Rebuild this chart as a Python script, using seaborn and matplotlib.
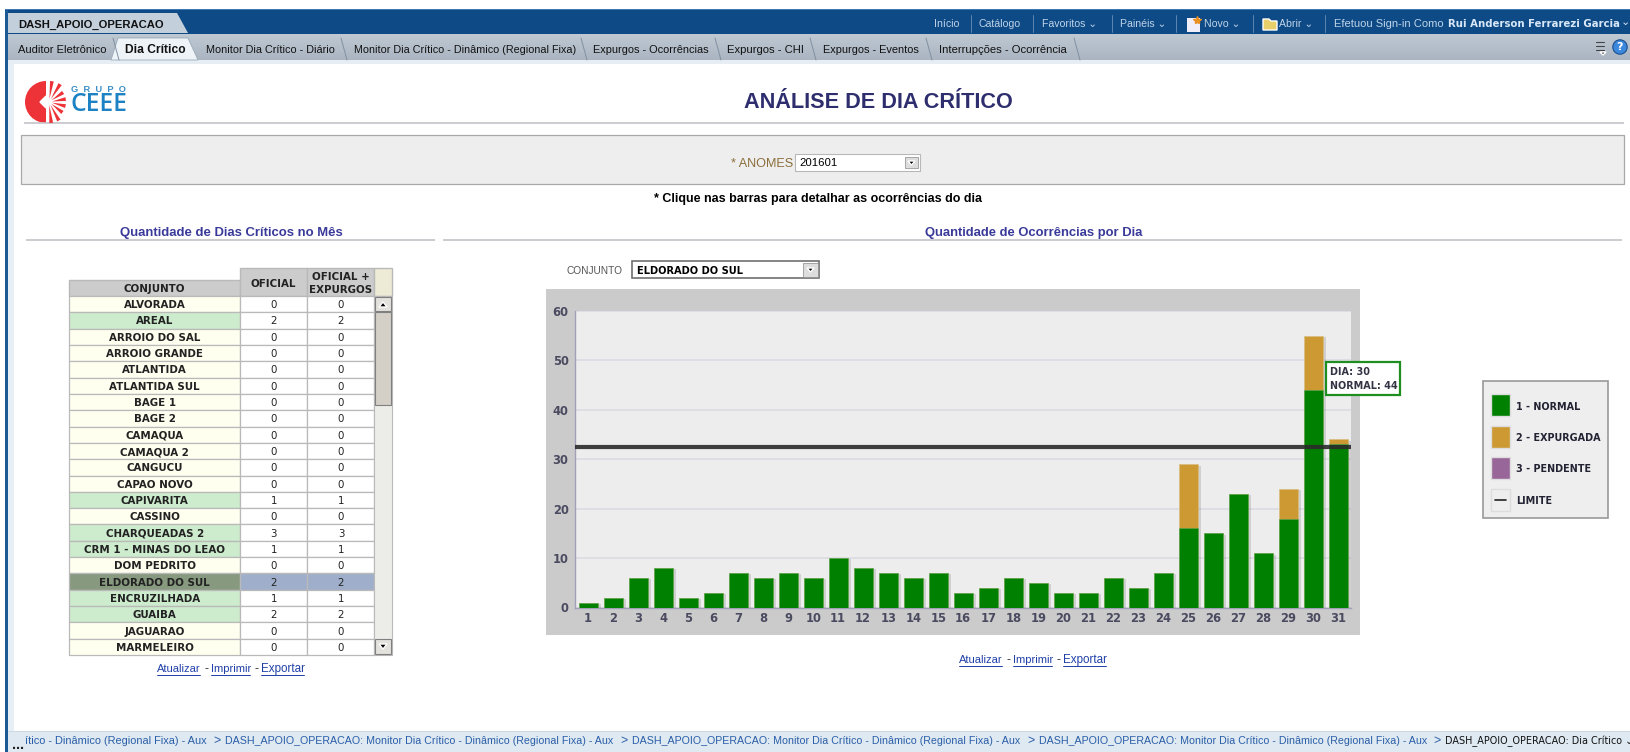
import numpy as np
import pandas as pd
import seaborn as sns
import matplotlib
matplotlib.use("Agg")
import matplotlib.pyplot as plt
from matplotlib.patches import Rectangle, Wedge, Polygon
from matplotlib.textpath import TextPath
from matplotlib.font_manager import FontProperties
import matplotlib.patheffects as pe

# ---------- data ----------
days = list(range(1, 32))
normal = [1, 2, 6, 8, 2, 3, 7, 6, 7, 6, 10, 8, 7, 6, 7, 3, 4, 6, 5, 3, 3, 6, 4, 7, 16, 15, 23, 11, 18, 44, 33]
expurgada = [0, 0, 0, 0, 0, 0, 0, 0, 0, 0, 0, 0, 0, 0, 0, 0, 0, 0, 0, 0, 0, 0, 0, 0, 13, 0, 0, 0, 6, 11, 1]
limite = 32.5
y_ticks = [0, 10, 20, 30, 40, 50, 60]

conjuntos = ["ALVORADA", "AREAL", "ARROIO DO SAL", "ARROIO GRANDE", "ATLANTIDA", "ATLANTIDA SUL",
             "BAGE 1", "BAGE 2", "CAMAQUA", "CAMAQUA 2", "CANGUCU", "CAPAO NOVO", "CAPIVARITA",
             "CASSINO", "CHARQUEADAS 2", "CRM 1 - MINAS DO LEAO", "DOM PEDRITO", "ELDORADO DO SUL",
             "ENCRUZILHADA", "GUAIBA", "JAGUARAO", "MARMELEIRO"]
oficial = [0, 2, 0, 0, 0, 0, 0, 0, 0, 0, 0, 0, 1, 0, 3, 1, 0, 2, 1, 2, 0, 0]
oficial_expurgos = [0, 2, 0, 0, 0, 0, 0, 0, 0, 0, 0, 0, 1, 0, 3, 1, 0, 2, 1, 2, 0, 0]
selecionado = "ELDORADO DO SUL"

tabs = [("Auditor Eletrônico", 18, 105), ("Dia Crítico", 125, 184), ("Monitor Dia Crítico - Diário", 206, 333),
        ("Monitor Dia Crítico - Dinâmico (Regional Fixa)", 354, 573), ("Expurgos - Ocorrências", 593, 707),
        ("Expurgos - CHI", 727, 802), ("Expurgos - Eventos", 823, 918), ("Interrupções - Ocorrência", 939, 1066)]
menu = [("Início", 934), ("Catálogo", 979), ("Favoritos ⌄", 1042), ("Painéis ⌄", 1120),
        ("Novo ⌄", 1204), ("Abrir ⌄", 1279)]

COL_N, COL_E, COL_P = "#008000", "#CC9933", "#996699"
W, H = 1631, 752

sns.set_theme(style="white")
plt.rcParams["font.family"] = ["DejaVu Sans"]
fig = plt.figure(figsize=(W / 100, H / 100), dpi=100, facecolor="white")

def px_axes(z):
    a = fig.add_axes([0, 0, 1, 1], zorder=z)
    a.set_xlim(0, W); a.set_ylim(H, 0); a.axis("off"); a.patch.set_alpha(0)
    return a

bg = px_axes(0)
fg = px_axes(3)

def fit(a, s, x0, x1, y, family="Liberation Sans", weight="normal", color="black", **kw):
    """Text of s spanning pixels x0..x1, vertically centred on y."""
    fp = FontProperties(family=family, weight=weight)
    w = TextPath((0, 0), s, size=10, prop=fp).get_extents().width
    size_px = 10 * (x1 - x0) / w
    return a.text(x0, y, s, family=family, weight=weight, fontsize=size_px * 72 / 100, color=color,
                  ha="left", va="center", **kw)

def rect(a, x0, y0, x1, y1, fc, ec="none", lw=0, z=1):
    a.add_patch(Rectangle((x0, y0), x1 - x0, y1 - y0, fc=fc, ec=ec, lw=lw, zorder=z))

def hline(a, x0, x1, y, c="#C4C4C8", lw=1.2):
    a.plot([x0, x1], [y, y], color=c, lw=lw, solid_capstyle="butt")

# ---------- page chrome ----------
rect(bg, 8, 60, 14, 731, "#E6EEF6", z=0.6)
rect(bg, 5, 9, W, 34, "#0E4A85")
rect(bg, 5, 9, W, 10, "#3C78B8", z=1.1)
rect(bg, 5, 9, 8, H, "#1C5A96")
bg.imshow(np.linspace(0, 1, 27)[:, None, None] * np.array([[[-0.08, -0.08, -0.07]]]) + np.array([0.75, 0.79, 0.83]),
          extent=(8, W, 60, 33), aspect="auto", zorder=0.5)
bg.set_xlim(0, W); bg.set_ylim(H, 0)
rect(bg, 8, 60, W, 64, "#E6EDF3")
bg.add_patch(Polygon([[8, 13], [177, 13], [188, 33], [8, 33]], fc="#C3D0DC", ec="none", zorder=1))
fit(bg, "DASH_APOIO_OPERACAO", 18, 162, 25, weight="bold", color="#111111", zorder=2)
bg.add_patch(Polygon([[111, 60], [118, 38], [188, 38], [198, 60]], fc="#EEF3F7", ec="#9AAABA", lw=.6, zorder=1))
for s, x0, x1 in tabs:
    active = s == "Dia Crítico"
    fit(bg, s, x0, x1, 50, weight="bold" if active else "normal", color="#111111", zorder=2)
    if not active:
        bg.plot([x1 + 8, x1 + 14], [38, 60], color="#8090A0", lw=.7, zorder=1)
for s, x0 in menu:
    bg.text(x0, 24, s, family=["Liberation Sans", "DejaVu Sans"], fontsize=7.6, color="#BFD4EA",
            ha="left", va="center", zorder=2)
fit(bg, "Efetuou Sign-in Como", 1334, 1441, 24, color="#BFD4EA", zorder=2)
fit(bg, "Rui Anderson Ferrarezi Garcia", 1448, 1617, 24, family="DejaVu Sans", weight="bold", color="#D8E8F8", zorder=2)
bg.text(1625, 22, "⌄", family="DejaVu Sans", color="#D8E8F8", fontsize=8, ha="center", va="center", zorder=2)
for xs in [971, 1033, 1112, 1176, 1253, 1325]:
    bg.plot([xs, xs], [15, 32], color="#5F86B0", lw=.7, zorder=2)
rect(bg, 1187, 18, 1200, 32, "#F0EEF8", z=2)
bg.plot([1197], [20], marker="*", color="#E89020", ms=6, zorder=3)
bg.add_patch(Polygon([[1263, 30], [1263, 19], [1269, 19], [1271, 21], [1277, 21], [1277, 30]], fc="#E8CF6A", zorder=2))
# help icons
bg.add_patch(plt.Circle((1620, 47), 7.2, fc="#3C88DC", ec="#1B4F90", lw=.8, zorder=2))
bg.text(1620, 47, "?", color="white", fontsize=8, weight="bold", ha="center", va="center", zorder=3)
for yy in [42, 46, 50]:
    bg.plot([1596, 1604], [yy, yy], color="#444444", lw=.8, zorder=2)
bg.add_patch(Polygon([[1600, 52], [1606, 52], [1603, 55]], fc="#222222", zorder=2))

# logo
bg.add_patch(Wedge((46, 102), 21, 90, 270, fc="#EE3338", ec="none", zorder=2))
bg.add_patch(Polygon([[46, 96], [40, 102], [46, 108]], fc="white", zorder=3))
for ang in np.deg2rad([-82, -58, -34, -10, 14, 38, 62, 84]):
    t = np.array([np.cos(ang), np.sin(ang)]); n = np.array([-t[1], t[0]])
    c0 = np.array([49.0, 102.0])
    r1 = 21 if abs(ang) > np.deg2rad(50) else 17
    bg.add_patch(Polygon([c0 + 3 * t, c0 + r1 * t + 1.9 * n, c0 + r1 * t - 1.9 * n], fc="#EE3338", ec="none", zorder=3))
fit(bg, "CEEE", 71, 125, 104.5, family="Open Sans", weight="semibold", color="#1C82C4", zorder=2)
fit(bg, "G  R  U  P  O", 71, 125, 90, family="Liberation Sans", weight="bold", color="#3A8FC8", zorder=2)

# title
fit(bg, "ANÁLISE DE DIA CRÍTICO", 744, 1011, 102, family="Liberation Sans", weight="bold", color="#2E2E6E", zorder=2)
hline(bg, 24, 1624, 123)
rect(bg, 21, 135, 1624, 184, "#EEEEEE", ec="#A8A8A8", lw=.9, z=1)
fit(bg, "* ANOMES", 731, 793, 164, color="#8B6F3A", zorder=2)
rect(bg, 795, 154, 920, 171, "white", ec="#B8B8B8", lw=.8, z=2)
fit(bg, "201601", 799, 836, 163, family="Liberation Sans", color="black", zorder=3)
rect(bg, 905, 157, 918, 168, "#DDDDDD", ec="#888888", lw=.5, z=3)
bg.add_patch(Polygon([[908, 161], [915, 161], [911.5, 165]], fc="black", zorder=4))
fit(bg, "* Clique nas barras para detalhar as ocorrências do dia", 654, 982, 199, weight="bold", zorder=2)
fit(bg, "Quantidade de Dias Críticos no Mês", 120, 342, 233, family="Liberation Sans", weight="bold", color="#3A3A9A", zorder=2)
hline(bg, 26, 435, 240)
fit(bg, "Quantidade de Ocorrências por Dia", 925, 1142, 233, family="Liberation Sans", weight="bold", color="#3A3A9A", zorder=2)
hline(bg, 443, 1622, 240)

# ---------- table ----------
xc = [69.5, 240, 307.5, 374.5, 392]
y_top, y_hdr0, row0 = 267.5, 279.5, 296
row_h = (655 - row0) / len(conjuntos)
G = "#B9B9B9"
rect(bg, xc[0], y_hdr0, xc[1], row0, "#CCCCCC", ec=G, lw=1, z=2)
rect(bg, xc[1], y_top, xc[2], row0, "#CCCCCC", ec=G, lw=1, z=2)
rect(bg, xc[2], y_top, xc[3], row0, "#CCCCCC", ec=G, lw=1, z=2)
rect(bg, xc[3], y_top, xc[4], row0, "#EDEBD6", ec=G, lw=1, z=2)
TB = dict(family="DejaVu Sans", weight="bold", fontsize=7.4, color="#222222", ha="center", va="center", zorder=4)
TN = dict(family="DejaVu Sans", fontsize=7.4, color="#222222", ha="center", va="center", zorder=4)
bg.text((xc[0] + xc[1]) / 2, 289, "CONJUNTO", **TB)
bg.text((xc[1] + xc[2]) / 2, 284, "OFICIAL", **TB)
bg.text((xc[2] + xc[3]) / 2, 277, "OFICIAL +", **TB)
bg.text((xc[2] + xc[3]) / 2, 290, "EXPURGOS", **TB)
for i, (c, a, b) in enumerate(zip(conjuntos, oficial, oficial_expurgos)):
    y0, y1 = row0 + i * row_h, row0 + (i + 1) * row_h
    sel = c == selecionado
    name_col = "#87997F" if sel else ("#CDEBCD" if a > 0 else "#FFFFF0")
    val_col = "#9FAFCB" if sel else "white"
    rect(bg, xc[0], y0, xc[1], y1, name_col, ec=G, lw=.9, z=2)
    rect(bg, xc[1], y0, xc[2], y1, val_col, ec=G, lw=.9, z=2)
    rect(bg, xc[2], y0, xc[3], y1, val_col, ec=G, lw=.9, z=2)
    ym = (y0 + y1) / 2 + 1
    bg.text((xc[0] + xc[1]) / 2, ym, c, **TB)
    bg.text((xc[1] + xc[2]) / 2, ym, str(a), **TN)
    bg.text((xc[2] + xc[3]) / 2, ym, str(b), **TN)
# scrollbar
rect(bg, xc[3], row0, xc[4], 655, "#ECECE8", ec=G, lw=.8, z=2)
rect(bg, xc[3] + 1, 312, xc[4] - 1, 405, "#D4D0C8", ec="#808080", lw=.8, z=3)
rect(bg, xc[3] + 1, 297, xc[4] - 1, 311, "#E4E2DC", ec="#808080", lw=.8, z=3)
rect(bg, xc[3] + 1, 639, xc[4] - 1, 654, "#E4E2DC", ec="#808080", lw=.8, z=3)
bg.add_patch(Polygon([[379, 307], [387, 307], [383, 302]], fc="black", zorder=4))
bg.add_patch(Polygon([[379, 644], [387, 644], [383, 649]], fc="black", zorder=4))

LINK = dict(color="#2040A8", zorder=3)
def links(y, xs):
    for s, x0, x1 in zip(["Atualizar", "Imprimir", "Exportar"], xs[0::2], xs[1::2]):
        fit(bg, s, x0, x1, y, **LINK)
        bg.plot([x0, x1], [y + 6, y + 6], color="#2040A8", lw=.7, zorder=3)
    fit(bg, "-", xs[1] + 5, xs[1] + 8, y, color="#333333", zorder=3)
    fit(bg, "-", xs[3] + 5, xs[3] + 8, y, color="#333333", zorder=3)
links(669, [157, 200, 211, 250, 261, 304])
links(660, [959, 1002, 1013, 1052, 1063, 1106])

# selector
fit(bg, "CONJUNTO", 567, 622, 271, color="#555555", zorder=3)
rect(bg, 632, 261, 819, 278, "white", ec="#707070", lw=1.2, z=3)
fit(bg, "ELDORADO DO SUL", 637, 742, 271, family="DejaVu Sans", weight="bold", zorder=4)
rect(bg, 803, 263, 818, 277, "#DDDDDD", ec="#888888", lw=.5, z=4)
bg.add_patch(Polygon([[807, 268], [814, 268], [810.5, 272]], fc="black", zorder=5))

# ---------- chart ----------
rect(bg, 546, 289, 1360, 635, "#CBCBCB", z=2)
ax = fig.add_axes([575.5 / W, 1 - 607.5 / H, (1351 - 575.5) / W, (607.5 - 311) / H], zorder=2, facecolor="#EDEDED")
df = pd.DataFrame({"dia": days, "normal": normal, "expurgada": expurgada})
df["total"] = df["normal"] + df["expurgada"]
shadow = [pe.SimplePatchShadow(offset=(2.5, -1), alpha=0.12, shadow_rgbFace="black"), pe.Normal()]
sns.barplot(data=df, x="dia", y="total", color=COL_E, saturation=1, width=0.76, ax=ax, zorder=3,
            edgecolor="#D9BE80", linewidth=.5)
sns.barplot(data=df, x="dia", y="normal", color=COL_N, saturation=1, width=0.76, ax=ax, zorder=3.1,
            edgecolor="#5FA85F", linewidth=.4)
for p in ax.patches[:31]:
    p.set_path_effects(shadow)
ax.axhline(limite, color="#2B2B2B", lw=3, alpha=.9, zorder=4)
ax.set_ylim(0, 60)
ax.set_yticks(y_ticks)
ax.grid(axis="y", color="#D9D9E2", lw=1.1, zorder=0)
ax.set_axisbelow(True)
ax.set_xlabel(""); ax.set_ylabel("")
for side in ["top", "right"]:
    ax.spines[side].set_visible(False)
for side in ["left", "bottom"]:
    ax.spines[side].set_color("#A0A0B8"); ax.spines[side].set_linewidth(1)
ax.tick_params(axis="y", length=0, labelsize=8.3, labelcolor="#4A4A60", pad=5)
ax.tick_params(axis="x", length=0, labelsize=8.3, labelcolor="#4A4A60", pad=3.5)
for t in ax.get_xticklabels() + ax.get_yticklabels():
    t.set_fontweight("bold"); t.set_family("DejaVu Sans")

# tooltip
rect(fg, 1326, 362, 1400, 395, "white", ec="#1E8E1E", lw=1.6, z=5)
fg.text(1330, 372, "DIA: 30", family="DejaVu Sans", weight="bold", fontsize=6.9, color="#333344", va="center", zorder=6)
fg.text(1330, 386, "NORMAL: 44", family="DejaVu Sans", weight="bold", fontsize=6.9, color="#333344", va="center", zorder=6)

# legend
rect(bg, 1483, 381, 1608, 518, "#EEEEEE", ec="#999999", lw=1.2, z=2)
leg = [("1 - NORMAL", COL_N, 405), ("2 - EXPURGADA", COL_E, 436.5), ("3 - PENDENTE", COL_P, 468), ("LIMITE", "#EEEEEE", 500)]
for lab, col, yc in leg:
    rect(bg, 1491, yc - 11, 1510, yc + 11, col, ec="#DDDDDD", lw=1, z=3)
    bg.text(1516, yc + 1.5, lab, family="DejaVu Sans", weight="bold", fontsize=6.9, color="#222233", va="center", zorder=4)
bg.plot([1495, 1506], [500, 500], color="#222222", lw=1.2, zorder=4)

# ---------- breadcrumb ----------
rect(bg, 8, 731, W, 752, "#DFE9F2", z=1)
hline(bg, 8, W, 731, c="#C8D4DE", lw=.6)
fit(bg, "...", 12, 22, 745, weight="bold", color="#222222", zorder=2)
fit(bg, "ítico - Dinâmico (Regional Fixa) - Aux", 25, 205, 741, color="#2A5EA8", zorder=2)
SEG = "DASH_APOIO_OPERACAO: Monitor Dia Crítico - Dinâmico (Regional Fixa) - Aux"
for start in [225, 632, 1039]:
    fit(bg, SEG, start, start + 386, 741, color="#2A5EA8", zorder=2)
for x in [213, 620, 1027, 1433]:
    fit(bg, ">", x, x + 6, 741, color="#2A5EA8", zorder=2)
fit(bg, "DASH_APOIO_OPERACAO: Dia Crítico ⌄", 1445, 1629, 741, family="DejaVu Sans", color="#111111", zorder=2)

fig.savefig("out.png", dpi=100, facecolor="white")
